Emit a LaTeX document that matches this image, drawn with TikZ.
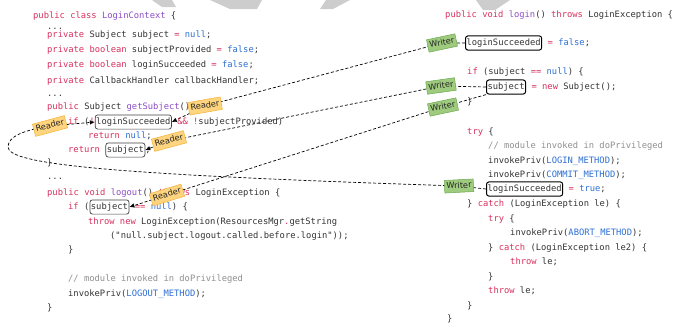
\documentclass[tikz,border=0pt]{standalone}
\usepackage{fontspec}
\setmonofont{DejaVu Sans Mono}
\setsansfont{DejaVu Sans}
\usepackage{xcolor}
\usepackage{tikz}
\usetikzlibrary{arrows.meta,positioning,backgrounds}

\definecolor{kwred}{HTML}{D7305C}
\definecolor{fnpurple}{HTML}{8C4CC4}
\definecolor{litblue}{HTML}{2C6ED3}
\definecolor{cmtgray}{HTML}{8E8E8E}
\definecolor{plain}{HTML}{333333}
\definecolor{readfill}{HTML}{FFD47E}
\definecolor{readline}{HTML}{F3B23A}
\definecolor{writefill}{HTML}{9ECB7E}
\definecolor{writeline}{HTML}{6DA94F}
\definecolor{markgray}{HTML}{CDCDCD}

\newcommand{\kwd}[1]{\textcolor{kwred}{#1}}
\newcommand{\fnc}[1]{\textcolor{fnpurple}{#1}}
\newcommand{\lit}[1]{\textcolor{litblue}{#1}}

\begin{document}
\begin{tikzpicture}[
    x=1pt, y=1pt,
    code/.style={anchor=west, inner sep=0pt, text=plain, font=\ttfamily\fontsize{8.8}{10}\selectfont, text height=6.6pt, text depth=2pt},
    readbox/.style={code, draw=black!75, line width=0.7pt, rounded corners=2.5pt, inner xsep=1pt, inner ysep=2.8pt},
    writebox/.style={readbox, draw=black, line width=1pt},
    tag/.style={font=\sffamily\fontsize{8.2}{9}\selectfont, text=black!85, inner xsep=2pt, inner ysep=2.4pt, text height=6.2pt, text depth=1.6pt, line width=0.5pt},
    reader/.style={tag, fill=readfill, draw=readline},
    writer/.style={tag, fill=writefill, draw=writeline},
    link/.style={dash pattern=on 3pt off 2pt, line width=0.7pt},
    arrow/.style={link, -{Latex[length=5pt,width=4.5pt]}}
]
\useasboundingbox (0,0) rectangle (678,-322);

% LoginContext, left column
\node[code] (lc1) at (33,-16) {\kwd{public} \kwd{class} \fnc{LoginContext} \{};
\node[code, anchor=base west] (lc2) at (47,-29) {...};
\node[code] (lc3) at (47,-35) {\kwd{private} Subject subject \kwd{=} \lit{null};};
\node[code] (lc4) at (47,-50) {\kwd{private} \kwd{boolean} subjectProvided \kwd{=} \lit{false};};
\node[code] (lc5) at (47,-65) {\kwd{private} \kwd{boolean} loginSucceeded \kwd{=} \lit{false};};
\node[code] (lc6) at (47,-81) {\kwd{private} CallbackHandler callbackHandler;};
\node[code, anchor=base west] (lc7) at (47,-96) {...};
\node[code] (lc8) at (47,-107) {\kwd{public} Subject \fnc{getSubject}()};
\node[code] (lc9a) at (68,-122) {\kwd{if} (\kwd{!}};
\node[readbox, anchor=base west] (lsIf) at (lc9a.base east) {loginSucceeded};
\node[code, anchor=base west] (lc9b) at (lsIf.base east) {\hbox{\ }\kwd{\&\&} \kwd{!}subjectProvided)};
\node[code] (lc10) at (88,-136) {\kwd{return} \lit{null};};
\node[code] (lc11a) at (68,-150) {\kwd{return}\hbox{\ }};
\node[readbox, anchor=base west] (sbRet) at (lc11a.base east) {subject};
\node[code, anchor=base west] (lc11b) at (sbRet.base east) {;};
\node[code] (lc12) at (47,-163) {\}};
\node[code, anchor=base west] (lc13) at (47,-179) {...};
\node[code] (lc14) at (47,-193) {\kwd{public} \kwd{void} \fnc{logout}() \kwd{throws} LoginException \{};
\node[code] (lc15a) at (68,-207) {\kwd{if} (};
\node[readbox, anchor=base west] (sbOut) at (lc15a.base east) {subject};
\node[code, anchor=base west] (lc15b) at (sbOut.base east) {\hbox{\ }\kwd{==} \lit{null}) \{};
\node[code] (lc16) at (88,-222) {\kwd{throw} \kwd{new} LoginException(ResourcesMgr\kwd{.}getString};
\node[code] (lc17) at (110,-236) {("null.subject.logout.called.before.login"));};
\node[code] (lc18) at (68,-250) {\}};
\node[code, text=cmtgray] (lc19) at (68,-279) {// module invoked in doPrivileged};
\node[code] (lc20) at (68,-294) {invokePriv(\lit{LOGOUT\_METHOD});};
\node[code] (lc21) at (47,-308) {\}};

% login(), right column
\node[code] (rc1) at (445,-15) {\kwd{public} \kwd{void} \fnc{login}() \kwd{throws} LoginException \{};
\node[writebox] (lsFalse) at (465,-43) {loginSucceeded};
\node[code, anchor=base west] (rc2b) at (lsFalse.base east) {\hbox{\ }\kwd{=} \lit{false};};
\node[code] (rc3) at (467,-72) {\kwd{if} (subject \kwd{==} \lit{null}) \{};
\node[writebox] (sbNew) at (486,-87) {subject};
\node[code, anchor=base west] (rc4b) at (sbNew.base east) {\hbox{\ }\kwd{=} \kwd{new} Subject();};
\node[code] (rc5) at (467,-102) {\}};
\node[code] (rc6) at (467,-132) {\kwd{try} \{};
\node[code, text=cmtgray] (rc7) at (488,-146) {// module invoked in doPrivileged};
\node[code] (rc8) at (488,-161) {invokePriv(\lit{LOGIN\_METHOD});};
\node[code] (rc9) at (488,-175) {invokePriv(\lit{COMMIT\_METHOD});};
\node[writebox] (lsTrue) at (486,-189) {loginSucceeded};
\node[code, anchor=base west] (rc10b) at (lsTrue.base east) {\hbox{\ }\kwd{=} \lit{true};};
\node[code] (rc11) at (467,-204) {\} \kwd{catch} (LoginException le) \{};
\node[code] (rc12) at (488,-219) {\kwd{try} \{};
\node[code] (rc13) at (510,-233) {invokePriv(\lit{ABORT\_METHOD});};
\node[code] (rc14) at (488,-248) {\} \kwd{catch} (LoginException le2) \{};
\node[code] (rc15) at (510,-262) {\kwd{throw} le;};
\node[code] (rc16) at (488,-277) {\}};
\node[code] (rc17) at (488,-291) {\kwd{throw} le;};
\node[code] (rc18) at (467,-306) {\}};
\node[code] (rc19) at (447,-319) {\}};

% Reader / Writer tags
\node[reader, rotate=10] (rdGet) at (205,-106) {Reader};
\node[reader, rotate=15] (rdLoop) at (50,-126) {Reader};
\node[reader, rotate=15] (rdRet) at (169,-141) {Reader};
\node[reader, rotate=17] (rdOut) at (167,-195) {Reader};
\node[writer, rotate=12] (wrFalse) at (442,-43) {Writer};
\node[writer, rotate=8] (wrNew) at (441,-86) {Writer};
\node[writer, rotate=12] (wrNew2) at (443,-107) {Writer};
\node[writer, rotate=3] (wrTrue) at (459,-186) {Writer};
\coordinate (loopL) at (8,-147);

\begin{scope}[on background layer]
% grey marks along the top edge
\fill[markgray] (152,0) -- (172,0) -- (176,-7) -- (162,-7) -- cycle;
\fill[markgray] (210,0) -- (262,0) -- (257,-9) -- (230,-9) -- cycle;
\fill[markgray] (326,0) -- (350,0) -- (333,-9) -- (320,-9) -- cycle;
\fill[markgray] (476,0) -- (510,0) -- (495,-10) -- (483,-10) -- cycle;

% data flow
\draw[arrow] (lsFalse.west) -- (wrFalse.center) -- (rdGet.center) -- (lsIf.east);
\draw[arrow] (sbNew.west) -- (wrNew.center) -- (rdRet.center) -- (sbRet.east);
\draw[arrow] (sbNew.south west) -- (wrNew2.center) -- (rdOut.center) -- (sbOut.east);
\draw[arrow] (lsTrue.west) -- (wrTrue.center) .. controls (120,-175) and (8,-165) .. (loopL)
    .. controls (8,-136) and (25,-130) .. (rdLoop.center) -- (lsIf.west);
\end{scope}

\end{tikzpicture}
\end{document}
